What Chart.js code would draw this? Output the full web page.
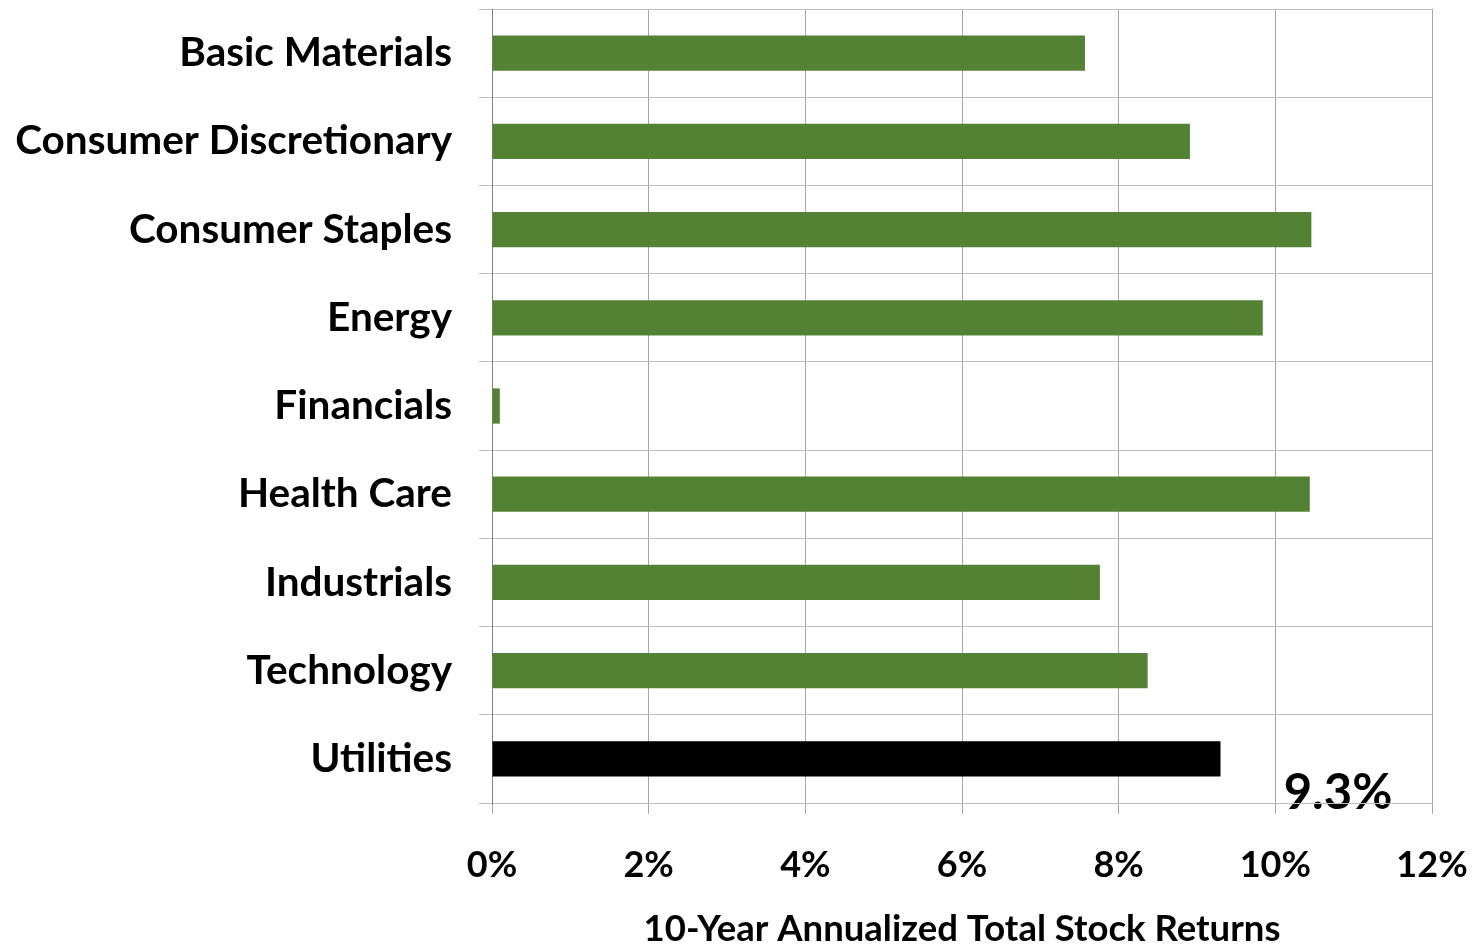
<!DOCTYPE html>
<html lang="en">
<head>
  <meta charset="utf-8">
  <title>10-Year Annualized Total Stock Returns</title>
  <style>
    html, body { margin: 0; padding: 0; background: #fff; }
    .chart-box { position: relative; width: 1475px; height: 947px; }
  </style>
</head>
<body>
  <div class="chart-box">
    <canvas id="myChart"></canvas>
  </div>

  <script src="https://cdn.jsdelivr.net/npm/chart.js@4/dist/chart.umd.min.js"></script>
  <script>
    // sectors and their 10-year annualized returns (%)
    var sectors = ['Basic Materials', 'Consumer Discretionary', 'Consumer Staples', 'Energy',
                   'Financials', 'Health Care', 'Industrials', 'Technology', 'Utilities'];
    var returns = [7.57, 8.91, 10.46, 9.84, 0.1, 10.44, 7.76, 8.37, 9.3];
    var xTicks = [0, 2, 4, 6, 8, 10, 12];

    var FONT = 'Lato, "Open Sans", sans-serif';
    var GREEN = '#548235';

    // utilities is highlighted in black, the rest green
    var barColors = sectors.map(function (s) { return s === 'Utilities' ? '#000000' : GREEN; });

    // the highlighted value written in the lower right of the plot
    var calloutLabel = {
      id: 'calloutLabel',
      beforeDraw: function (chart) {
        var ctx = chart.ctx;
        var x = chart.scales.x;
        var y = chart.scales.y;
        var idx = sectors.indexOf('Utilities');
        ctx.save();
        ctx.font = 'bold 49px ' + FONT;
        ctx.fillStyle = '#000';
        ctx.textAlign = 'center';
        ctx.textBaseline = 'middle';
        ctx.fillText(returns[idx].toFixed(1) + '%', x.getPixelForValue(10.8), y.getPixelForValue(idx) + 34);
        ctx.restore();
      }
    };

    var ctx = document.getElementById('myChart');
    var myChart = new Chart(ctx, {
      type: 'bar',
      data: {
        labels: sectors,
        datasets: [{
          label: '10-Year Annualized Total Stock Returns',
          data: returns,
          backgroundColor: barColors,
          borderWidth: 0,
          categoryPercentage: 1.0,
          barPercentage: 0.4
        }]
      },
      plugins: [calloutLabel],
      options: {
        indexAxis: 'y',
        responsive: true,
        maintainAspectRatio: false,
        animation: false,
        layout: { padding: { top: 9, right: 43, left: 0, bottom: 0 } },
        plugins: {
          legend: { display: false },
          tooltip: { enabled: false }
        },
        scales: {
          x: {
            min: 0,
            max: 12,
            afterBuildTicks: function (axis) {
              axis.ticks = xTicks.map(function (v) { return { value: v }; });
            },
            afterFit: function (axis) {
              axis.height = 144;
              axis.paddingLeft = 0;
              axis.paddingRight = 0;
            },
            grid: { color: '#a6a6a6', lineWidth: 1, tickLength: 11 },
            border: { color: '#bfbfbf' },
            ticks: {
              color: '#000',
              padding: 30,
              font: { family: FONT, size: 36, weight: 'bold' },
              callback: function (v) { return v + '%'; }
            },
            title: {
              display: true,
              text: '10-Year Annualized Total Stock Returns',
              color: '#000',
              font: { family: FONT, size: 36.5, weight: 'bold', lineHeight: 1.0 },
              padding: { top: 18, bottom: 0 }
            }
          },
          y: {
            afterFit: function (axis) {
              axis.width = 492;
              axis.paddingTop = 0;
              axis.paddingBottom = 0;
            },
            grid: { color: '#bfbfbf', lineWidth: 1, tickLength: 13, offset: true },
            border: { color: '#7f7f7f' },
            ticks: {
              color: '#000',
              padding: 27,
              font: { family: FONT, size: 40.5, weight: 'bold' }
            }
          }
        }
      }
    });
  </script>
</body>
</html>
